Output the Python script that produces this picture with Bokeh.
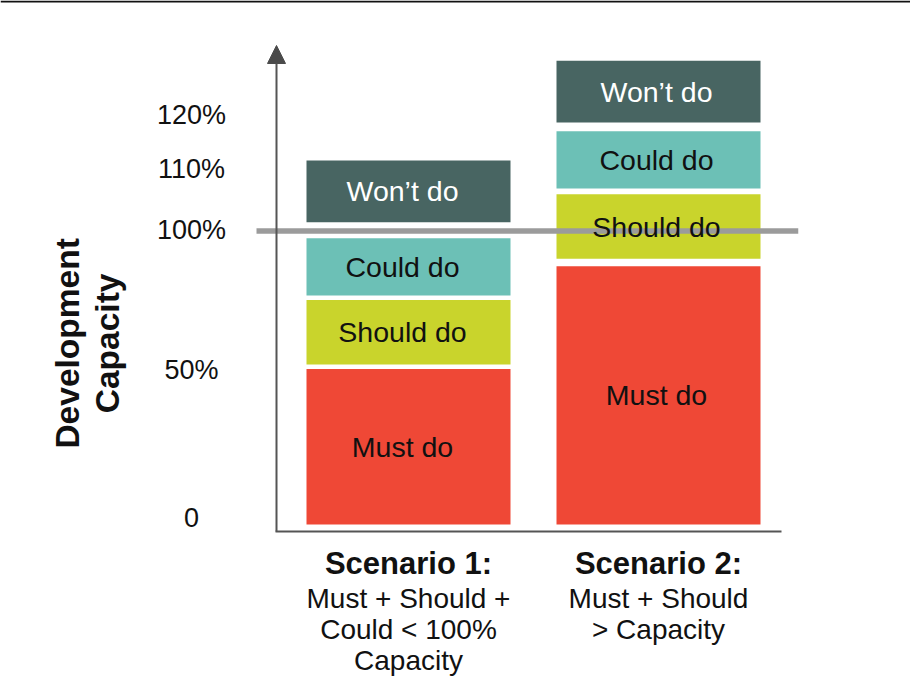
import math
from bokeh.plotting import figure
from bokeh.models import Range1d, Arrow, NormalHead, Span
from bokeh.embed import file_html
from bokeh.resources import INLINE
from bokeh.core.properties import value

# ---------------- data ----------------
scenarios = [1, 2]
scenario_titles = ["Scenario 1:", "Scenario 2:"]
scenario_notes = [["Must + Should +", "Could < 100%", "Capacity"],
                  ["Must + Should", "> Capacity"]]
categories = ["Must do", "Should do", "Could do", "Won\u2019t do"]
s1_bottom = [0, 54.5, 78, 103]
s1_top = [53, 76.5, 97.5, 124]
s2_bottom = [0, 90.5, 114.5, 137]
s2_top = [88, 112.5, 134, 158]
tick_labels = ["0", "50%", "100%", "110%", "120%"]
tick_pos = [2.5, 52.8, 100.2, 121, 139.4]
capacity = 100
y_title = ["Development", "Capacity"]

# ---------------- style ----------------
colors = ["#EF4836", "#C9D42C", "#6CC0B6", "#486562"]
label_colors = ["#111111", "#111111", "#111111", "#FFFFFF"]
label_dx = [-6, -2]
FONT = value("Liberation Sans")
AX = "#555555"

W, H = 910, 698
PX_X = 250.0     # pixels per x unit
PX_Y = 2.935     # pixels per percent
X0, Y1 = -0.632, 178.53
p = figure(width=W, height=H, x_range=Range1d(X0, X0 + W / PX_X),
           y_range=Range1d(Y1 - H / PX_Y, Y1), output_backend="svg",
           toolbar_location=None, min_border=0,
           x_axis_type=None, y_axis_type=None)
p.grid.visible = False
p.outline_line_color = None
p.background_fill_color = "white"
p.border_fill_color = "white"

# top rule
p.add_layout(Span(location=Y1 - 1 / PX_Y, dimension="width", line_color="#111111", line_width=2))

BAR_W = 0.816
for x, bots, tops in zip(scenarios, [s1_bottom, s2_bottom], [s1_top, s2_top]):
    p.vbar(x=[x] * len(categories), width=BAR_W, bottom=bots, top=tops,
           fill_color=colors, line_color=None)

# axes
p.segment(x0=[0.468], y0=[-2.39], x1=[2.492], y1=[-2.39], line_color=AX, line_width=2)
p.add_layout(Arrow(end=NormalHead(size=18, fill_color="#4a4a4a", line_color="#4a4a4a", line_width=1),
                   x_start=0.472, y_start=-2.39, x_end=0.472, y_end=163.2,
                   line_color=AX, line_width=2))

# capacity line
p.segment(x0=[0.392], y0=[capacity], x1=[2.559], y1=[capacity],
          line_color="#9B9B9B", line_width=5.5)

# bar labels
for x, bots, tops, dx in zip(scenarios, [s1_bottom, s2_bottom], [s1_top, s2_top], label_dx):
    p.text(x=[x] * len(categories), y=[(b + t) / 2 for b, t in zip(bots, tops)],
           text=categories, text_color=label_colors, text_font=FONT, x_offset=dx,
           text_font_size="28.5px", text_align="center", text_baseline="middle")

# tick labels
p.text(x=[0.132] * len(tick_labels), y=tick_pos, text=tick_labels,
       text_font=FONT, text_font_size="27px", text_color="#111111",
       text_align="center", text_baseline="middle")

# scenario labels
for x, title, notes in zip(scenarios, scenario_titles, scenario_notes):
    p.text(x=[x], y=[0], text=[title], y_offset=39, text_font=FONT,
           text_font_style="bold", text_font_size="31px", text_color="#111111",
           text_align="center", text_baseline="middle")
    for i, line in enumerate(notes):
        p.text(x=[x], y=[0], text=[line], y_offset=74 + 31 * i, text_font=FONT,
               text_font_size="28px", text_color="#111111",
               text_align="center", text_baseline="middle")

# y title
p.text(x=[-0.365, -0.206], y=[61.7, 61.7], text=y_title, angle=math.pi / 2,
       text_font=FONT, text_font_style="bold", text_font_size="33.5px",
       text_color="#111111", text_align="center", text_baseline="middle")

open("out.html", "w").write(file_html(p, INLINE))
